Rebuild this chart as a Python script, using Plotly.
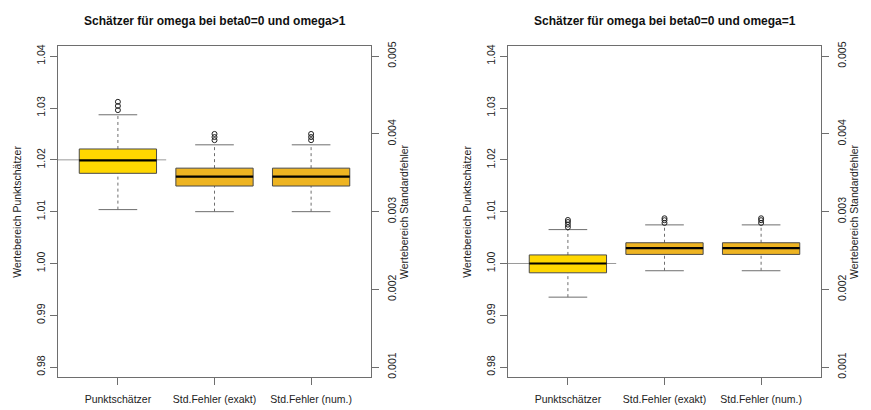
import plotly.graph_objects as go

# ---------------- data ----------------
categories = ["Punktschätzer", "Std.Fehler (exakt)", "Std.Fehler (num.)"]
panel_titles = ["Schätzer für omega bei beta0=0 und omega>1",
                "Schätzer für omega bei beta0=0 und omega=1"]

# stats: [lower whisker, q1, median, q3, upper whisker]
left_point_stats = [1.0104, 1.0174, 1.0199, 1.0221, 1.0287]
left_point_out = [1.0296, 1.0304, 1.0312]
left_se_exakt_stats = [0.00300, 0.00333, 0.00345, 0.00356, 0.00386]
left_se_exakt_out = [0.00392, 0.00396, 0.00400]
left_se_num_stats = [0.00300, 0.00333, 0.00345, 0.00356, 0.00386]
left_se_num_out = [0.00392, 0.00396, 0.00400]
left_true = 1.02

right_point_stats = [0.9935, 0.9982, 1.0000, 1.00165, 1.00654]
right_point_out = [1.0070, 1.0075, 1.0080, 1.0084]
right_se_exakt_stats = [0.00224, 0.00245, 0.00253, 0.00260, 0.00283]
right_se_exakt_out = [0.002855, 0.00289, 0.002915]
right_se_num_stats = [0.00224, 0.00245, 0.00253, 0.00260, 0.00283]
right_se_num_out = [0.002855, 0.00289, 0.002915]
right_true = 1.00

left_ticks = [0.98, 0.99, 1.00, 1.01, 1.02, 1.03, 1.04]
left_ticktext = ["0.98", "0.99", "1.00", "1.01", "1.02", "1.03", "1.04"]
right_ticks = [0.001, 0.002, 0.003, 0.004, 0.005]
right_ticktext = ["0.001", "0.002", "0.003", "0.004", "0.005"]

# ---------------- styling ----------------
W, H = 871, 410
FONT = "Liberation Sans, Arial, sans-serif"
GREY = "#6e6e6e"
FILL_POINT = "#FFD700"
FILL_SE = "#EEB422"
BORDER = "#4a4a4a"

y_left_range = [0.978, 1.0419]


def to_right(v):
    return 0.001 + (v - 0.98) / 0.06 * 0.004


y_right_range = [to_right(y_left_range[0]), to_right(y_left_range[1])]

fig = go.Figure()


def add_box(xa, ya, c, stats, outs, fill):
    lw, q1, med, q3, uw = stats
    hw, cw = 0.4, 0.2
    common = dict(xaxis=xa, yaxis=ya, showlegend=False, hoverinfo="skip")
    fig.add_trace(go.Scatter(x=[c, c, None, c, c], y=[q3, uw, None, lw, q1], mode="lines",
                             line=dict(color=GREY, width=1, dash="3px,3px"), **common))
    fig.add_trace(go.Scatter(x=[c - cw, c + cw, None, c - cw, c + cw], y=[uw, uw, None, lw, lw],
                             mode="lines", line=dict(color=GREY, width=1), **common))
    fig.add_trace(go.Scatter(x=[c - hw, c + hw, c + hw, c - hw, c - hw], y=[q1, q1, q3, q3, q1],
                             mode="lines", fill="toself", fillcolor=fill,
                             line=dict(color=BORDER, width=1), **common))
    fig.add_trace(go.Scatter(x=[c - hw, c + hw], y=[med, med], mode="lines",
                             line=dict(color="black", width=2.2), **common))
    fig.add_trace(go.Scatter(x=[c] * len(outs), y=outs, mode="markers",
                             marker=dict(symbol="circle-open", size=5, color="#222",
                                         line=dict(width=1)), **common))


panels = [
    ("x", "y", "y2", left_true, [left_point_stats, left_se_exakt_stats, left_se_num_stats],
     [left_point_out, left_se_exakt_out, left_se_num_out]),
    ("x2", "y3", "y4", right_true, [right_point_stats, right_se_exakt_stats, right_se_num_stats],
     [right_point_out, right_se_exakt_out, right_se_num_out]),
]

for xa, yl, yr, true_v, stats_list, outs_list in panels:
    fig.add_trace(go.Scatter(x=[0, 1.5], y=[true_v, true_v], mode="lines",
                             line=dict(color="#9a9a9a", width=1), xaxis=xa, yaxis=yl,
                             showlegend=False, hoverinfo="skip"))
    for i, (st, ou) in enumerate(zip(stats_list, outs_list)):
        c = i + 1
        add_box(xa, yl if i == 0 else yr, c, st, ou, FILL_POINT if i == 0 else FILL_SE)

x_domains = [[58 / W, 371 / W], [508 / W, 821 / W]]
y_domain = [1 - 378 / H, 1 - 42 / H]

tickfont = dict(family=FONT, size=10.5, color="#222")
titlefont = dict(family=FONT, size=10.5, color="#222")

xcommon = dict(range=[0.38, 3.62], tickvals=[1, 2, 3], ticktext=categories,
               showline=True, mirror=True, linecolor=GREY, linewidth=1,
               ticks="outside", ticklen=7, tickcolor=GREY, showgrid=False, zeroline=False,
               tickfont=tickfont, ticklabelstandoff=5, fixedrange=True)
yleft = dict(range=y_left_range, tickvals=left_ticks, ticktext=left_ticktext,
             showline=True, linecolor=GREY, linewidth=1, ticks="outside", ticklen=7,
             tickcolor=GREY, showgrid=False, zeroline=False, tickangle=-90,
             tickfont=tickfont, domain=y_domain, ticklabelstandoff=1,
             title=dict(text="Wertebereich Punktschätzer", font=titlefont, standoff=11))
yright = dict(range=y_right_range, tickvals=right_ticks, ticktext=right_ticktext,
              showline=True, linecolor=GREY, linewidth=1, ticks="outside", ticklen=7,
              tickcolor=GREY, showgrid=False, zeroline=False, tickangle=-90,
              tickfont=tickfont, side="right", ticklabelstandoff=4,
              title=dict(text="Wertebereich Standardfehler", font=titlefont, standoff=3))

fig.update_layout(
    width=W, height=H,
    margin=dict(l=0, r=0, t=0, b=0),
    paper_bgcolor="white", plot_bgcolor="white",
    xaxis=dict(domain=x_domains[0], anchor="y", **xcommon),
    xaxis2=dict(domain=x_domains[1], anchor="y3", **xcommon),
    yaxis=dict(anchor="x", **yleft),
    yaxis2=dict(anchor="x", overlaying="y", **yright),
    yaxis3=dict(anchor="x2", **yleft),
    yaxis4=dict(anchor="x2", overlaying="y3", **yright),
)

for i, t in enumerate(panel_titles):
    fig.add_annotation(text="<b>" + t + "</b>", xref="paper", yref="paper",
                       x=sum(x_domains[i]) / 2, y=1 - 16 / H, xanchor="center", yanchor="middle",
                       showarrow=False, font=dict(family=FONT, size=12, color="#111"))

fig.write_html("out.html", config={"displayModeBar": False},
               post_script="document.body.style.margin='0';document.body.style.padding='0';")
